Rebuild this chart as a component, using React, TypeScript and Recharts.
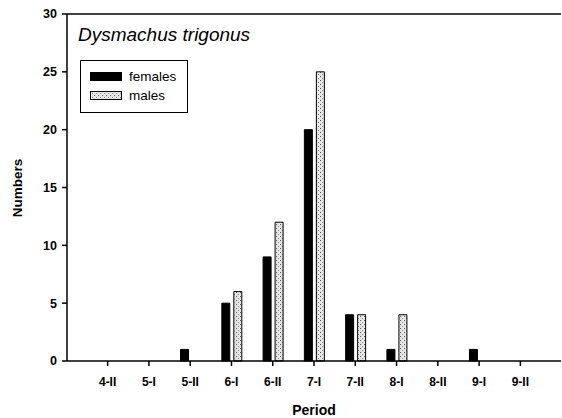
import React from "react"
import { BarChart, Bar, XAxis, YAxis, Legend, Label, ReferenceLine } from "recharts"

const periods = ["4-II", "5-I", "5-II", "6-I", "6-II", "7-I", "7-II", "8-I", "8-II", "9-I", "9-II"]
const females = [0, 0, 1, 5, 9, 20, 4, 1, 0, 1, 0]
const males = [0, 0, 0, 6, 12, 25, 4, 4, 0, 0, 0]
const yTicks = [0, 5, 10, 15, 20, 25, 30]

const data = periods.map((p, i) => ({ period: p, females: females[i], males: males[i] }))

const font = "'Liberation Sans', Arial, sans-serif"

function Stipple({ id }: { id: string }) {
  return (
    <pattern id={id} width="4" height="4" patternUnits="userSpaceOnUse">
      <rect width="4" height="4" fill="#e4e4e4" />
      <rect x="0" y="0" width="1" height="1" fill="#555" />
      <rect x="2" y="2" width="1" height="1" fill="#888" />
      <rect x="3" y="0" width="1" height="1" fill="#fff" />
    </pattern>
  )
}

function LegendBox() {
  const row = (label: string, fill: string) => (
    <div style={{ display: "flex", alignItems: "center", height: 19 }}>
      <svg width={32} height={9} style={{ marginRight: 7 }}>
        <defs>
          <Stipple id="stipLegend" />
        </defs>
        <rect x={0.5} y={0.5} width={31} height={8} fill={fill} stroke="#000" />
      </svg>
      <span>{label}</span>
    </div>
  )
  return (
    <div
      style={{
        border: "1.5px solid #000",
        width: 108,
        height: 53,
        boxSizing: "border-box",
        padding: "6px 0 0 9px",
        fontFamily: font,
        fontSize: 13.5,
        color: "#000",
        background: "#fff",
      }}
    >
      {row("females", "#000")}
      {row("males", "url(#stipLegend)")}
    </div>
  )
}

export default function App() {
  return (
    <div style={{ position: "absolute", left: 0, top: 0, width: 562, height: 418, background: "#fff" }}>
      <div
        style={{
          position: "absolute",
          left: 78,
          top: 24,
          fontFamily: font,
          fontStyle: "italic",
          fontSize: 19,
          color: "#000",
          zIndex: 2,
        }}
      >
        Dysmachus trigonus
      </div>
      <BarChart
        width={562}
        height={418}
        data={data}
        margin={{ top: 14, right: 1, bottom: 0, left: 0 }}
        barSize={8}
        barGap={4}
      >
        <defs>
          <Stipple id="stipMales" />
        </defs>
        <XAxis
          dataKey="period"
          height={57}
          padding={{ left: 20, right: 20 }}
          interval={0}
          stroke="#000"
          strokeWidth={1.5}
          tickSize={5}
          tickMargin={11}
          tick={{ fill: "#000", fontSize: 12, fontWeight: "bold", fontFamily: font }}
        >
          <Label
            value="Period"
            position="insideBottom"
            offset={3}
            style={{ fill: "#000", fontSize: 14, fontWeight: "bold", fontFamily: font }}
          />
        </XAxis>
        <YAxis
          width={67}
          domain={[0, 30]}
          ticks={yTicks}
          interval={0}
          stroke="#000"
          strokeWidth={1.5}
          tickSize={5}
          tickMargin={5}
          tick={{ fill: "#000", fontSize: 12.5, fontWeight: "bold", fontFamily: font }}
        >
          <Label
            content={() => (
              <text
                x={22}
                y={188}
                transform="rotate(-90 22 188)"
                textAnchor="middle"
                style={{ fill: "#000", fontSize: 13.5, fontWeight: "bold", fontFamily: font }}
              >
                Numbers
              </text>
            )}
          />
        </YAxis>
        <ReferenceLine y={30} stroke="#000" strokeWidth={1.5} />
        <Legend
          layout="horizontal"
          verticalAlign="middle"
          align="center"
          content={() => <LegendBox />}
          wrapperStyle={{ position: "absolute", left: 80, top: 60, width: 108, height: 53 }}
        />
        <Bar dataKey="females" fill="#000" stroke="#000" isAnimationActive={false} />
        <Bar dataKey="males" fill="url(#stipMales)" stroke="#000" strokeWidth={1} isAnimationActive={false} />
      </BarChart>
    </div>
  )
}
